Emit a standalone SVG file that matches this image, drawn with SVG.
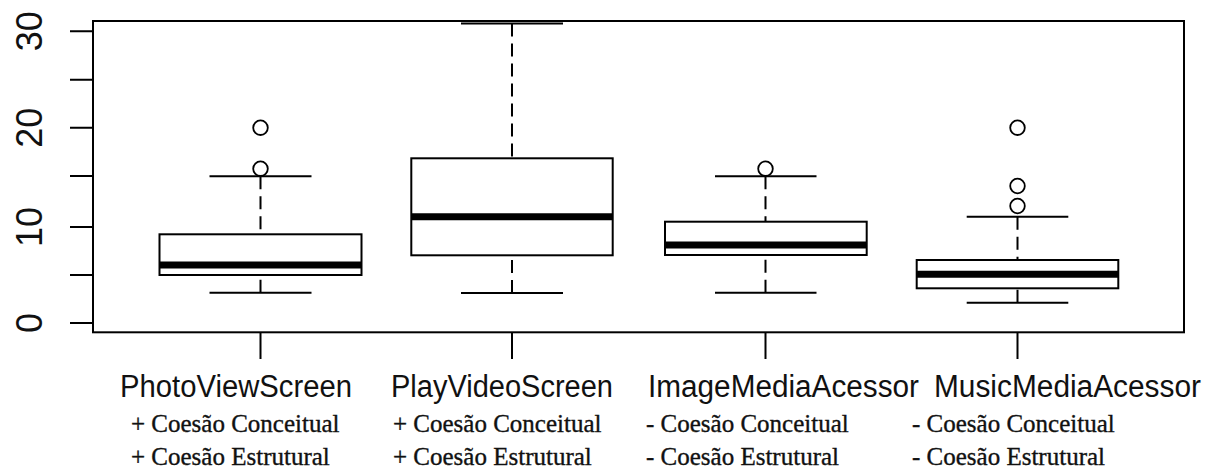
<svg xmlns="http://www.w3.org/2000/svg" width="1214" height="472" viewBox="0 0 1214 472">
<style>
.ln{stroke:#000;stroke-width:2;fill:none}
.box{stroke:#000;stroke-width:2;fill:#fff}
.med{stroke:#000;stroke-width:7}
.wh{stroke:#000;stroke-width:2;stroke-dasharray:13 7;fill:none}
.out{stroke:#000;stroke-width:1.8;fill:none}
.ylab{font-family:"Liberation Sans",Arial,sans-serif;font-size:36px;fill:#111;text-anchor:middle}
.xlab{font-family:"Liberation Sans",Arial,sans-serif;font-size:31px;fill:#111}
.sub{font-family:"Liberation Serif","Times New Roman",serif;font-size:25px;fill:#111;stroke:#111;stroke-width:0.35}
</style>
<rect width="1214" height="472" fill="#fff"/>
<g id="axes">
<rect x="93" y="21" width="1091" height="311.3" class="ln"/>
<path class="ln" d="M70 31.3H93M70 79.7H93M70 127.7H93M70 176H93M70 227H93M70 275H93M70 323H93"/>
<path class="ln" d="M260.5 332V359M512 332V359M765.5 332V359M1017.5 332V359"/>
<text class="ylab" transform="translate(42,31.3) rotate(-90)">30</text>
<text class="ylab" transform="translate(42,127.7) rotate(-90)">20</text>
<text class="ylab" transform="translate(42,227) rotate(-90)">10</text>
<text class="ylab" transform="translate(42,323) rotate(-90)">0</text>
</g>
<g id="box-photoviewscreen">
<path class="wh" d="M260.5 176.3V234.3M260.5 292.7V275"/>
<path class="ln" d="M209.5 176.3H311.5M209.5 292.7H311.5"/>
<rect class="box" x="159.5" y="234.3" width="202" height="40.7"/>
<path class="med" d="M159.5 265H361.5"/>
<circle class="out" cx="260.5" cy="127.7" r="7.3"/>
<circle class="out" cx="260.5" cy="168.7" r="7.3"/>
</g>
<g id="box-playvideoscreen">
<path class="wh" d="M512 23.5V158.3M512 293V255.3"/>
<path class="ln" d="M461 23.5H563M461 293H563"/>
<rect class="box" x="411.3" y="158.3" width="201.4" height="97"/>
<path class="med" d="M411.3 216.7H612.7"/>
</g>
<g id="box-imagemediaacessor">
<path class="wh" d="M765.5 176.3V221.7M765.5 292.7V255"/>
<path class="ln" d="M715 176.3H816.5M715 292.7H816.5"/>
<rect class="box" x="665" y="221.7" width="201.7" height="33.3"/>
<path class="med" d="M665 245H866.7"/>
<circle class="out" cx="765.5" cy="168.7" r="7.3"/>
</g>
<g id="box-musicmediaacessor">
<path class="wh" d="M1017.5 216.7V260M1017.5 302.7V288.3"/>
<path class="ln" d="M966.7 216.7H1068.3M966.7 302.7H1068.3"/>
<rect class="box" x="916.7" y="260" width="201.6" height="28.3"/>
<path class="med" d="M916.7 274.3H1118.3"/>
<circle class="out" cx="1017.5" cy="127.7" r="7.3"/>
<circle class="out" cx="1017.5" cy="186" r="7.3"/>
<circle class="out" cx="1017.5" cy="206" r="7.3"/>
</g>
<g id="labels">
<text class="xlab" x="120" y="397" textLength="232" lengthAdjust="spacingAndGlyphs">PhotoViewScreen</text>
<text class="sub" x="131" y="432">+ Coesão Conceitual</text>
<text class="sub" x="131" y="465">+ Coesão Estrutural</text>
<text class="xlab" x="391" y="397" textLength="222" lengthAdjust="spacingAndGlyphs">PlayVideoScreen</text>
<text class="sub" x="393" y="432">+ Coesão Conceitual</text>
<text class="sub" x="393" y="465">+ Coesão Estrutural</text>
<text class="xlab" x="648" y="397" textLength="271" lengthAdjust="spacingAndGlyphs">ImageMediaAcessor</text>
<text class="sub" x="646" y="432">- Coesão Conceitual</text>
<text class="sub" x="646" y="465">- Coesão Estrutural</text>
<text class="xlab" x="934" y="397" textLength="267" lengthAdjust="spacingAndGlyphs">MusicMediaAcessor</text>
<text class="sub" x="912" y="432">- Coesão Conceitual</text>
<text class="sub" x="912" y="465">- Coesão Estrutural</text>
</g>
</svg>
